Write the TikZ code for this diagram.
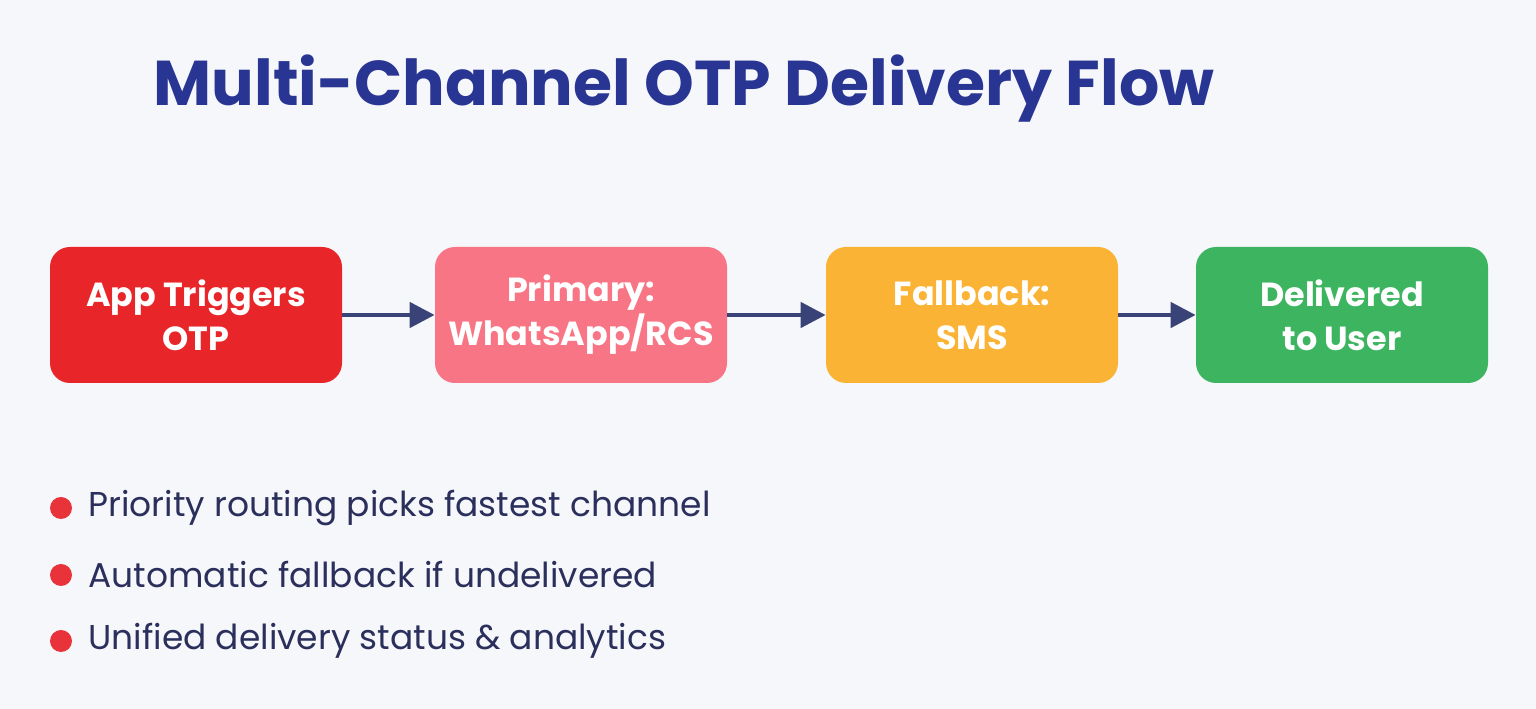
\documentclass[tikz,border=0pt]{standalone}
\usepackage{fontspec}
\setmainfont{Poppins}
\usetikzlibrary{arrows.meta,positioning}
\definecolor{bgcol}{HTML}{F6F7FB}
\definecolor{titleblue}{HTML}{283593}
\definecolor{flowred}{HTML}{E8262A}
\definecolor{flowpink}{HTML}{F87585}
\definecolor{floworange}{HTML}{FBB335}
\definecolor{flowgreen}{HTML}{3DB560}
\definecolor{arrownavy}{HTML}{3A4377}
\definecolor{textnavy}{HTML}{2A2F5B}
\definecolor{dotred}{HTML}{E8333A}
\tikzset{
    stage/.style={rounded corners=0.4cm, minimum width=5.84cm, minimum height=2.72cm,
                 text=white, align=center, font=\fontsize{19}{25}\selectfont\bfseries},
    flow/.style={draw=arrownavy, line width=2.6pt, -{Triangle[length=0.5cm,width=0.5cm]}},
    dot/.style={circle, fill=dotred, minimum size=0.44cm, inner sep=0pt},
    point/.style={anchor=west, text=textnavy, font=\fontsize{19.6}{24}\selectfont}
}
\begin{document}
\begin{tikzpicture}
    %% Canvas
    \fill[bgcol] (0,0) rectangle (30.72,14.18);
    \useasboundingbox (0,0) rectangle (30.72,14.18);

    %% Title
    \node[text=titleblue, font=\fontsize{36}{42}\selectfont\bfseries] (title) at (13.68,12.4)
        {Multi-Channel OTP Delivery Flow};

    %% Stages
    \node[stage, fill=flowred] (app) at (3.92,7.88) {App Triggers\\OTP};
    \node[stage, fill=flowpink] (primary) at (11.62,7.88) {Primary:\\WhatsApp/RCS};
    \node[stage, fill=floworange] (fallback) at (19.44,7.88) {Fallback:\\SMS};
    \node[stage, fill=flowgreen] (user) at (26.84,7.88) {Delivered\\to User};

    %% Arrows
    \draw[flow] (app) -- (primary);
    \draw[flow] (primary) -- (fallback);
    \draw[flow] (fallback) -- (user);

    %% Notes
    \node[dot] (d1) at (1.22,4.02) {};
    \node[point, right=0.2cm of d1] (t1) {Priority routing picks fastest channel};
    \node[dot] (d2) at (1.22,2.68) {};
    \node[point, right=0.2cm of d2] (t2) {Automatic fallback if undelivered};
    \node[dot] (d3) at (1.22,1.36) {};
    \node[point, right=0.2cm of d3] (t3) {Unified delivery status \& analytics};
\end{tikzpicture}
\end{document}
